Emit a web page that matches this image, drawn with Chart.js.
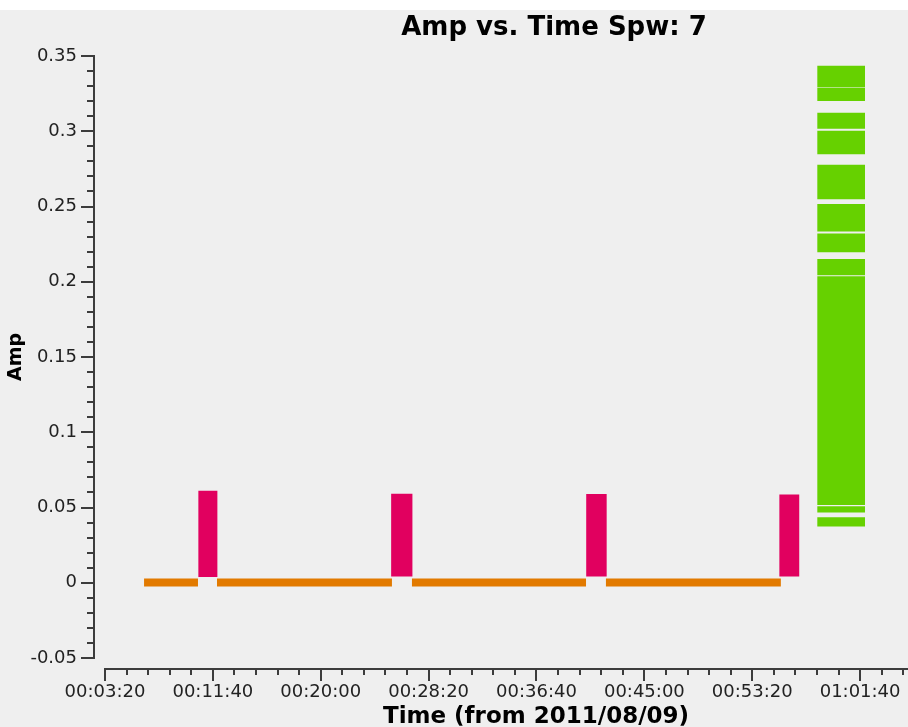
<!DOCTYPE html>
<html>
<head>
<meta charset="utf-8">
<title>Amp vs. Time Spw: 7</title>
<script src="https://cdn.jsdelivr.net/npm/chart.js@4.4.0/dist/chart.umd.min.js"></script>
<style>
  html, body { margin: 0; padding: 0; background: #fff; overflow: hidden; }
  #wrap { position: relative; width: 908px; height: 727px; }
</style>
</head>
<body>
<div id="wrap"><canvas id="plot"></canvas></div>
<script>
/* ---- data (time = seconds after 00:00:00 on 2011/08/09) ---- */
const xTicks = [200, 700, 1200, 1700, 2200, 2700, 3200, 3700];
const yTicks = [-0.05, 0, 0.05, 0.1, 0.15, 0.2, 0.25, 0.3, 0.35];
const xMin = 200, xMax = 3922;
const yMin = -0.05, yMax = 0.35;

// target scans, amp sitting on zero
const orangeStart = [381, 719, 1622, 2521];
const orangeEnd   = [631, 1530, 2430, 3333];
const orangeLow   = [-0.0025, -0.0025, -0.0025, -0.0025];
const orangeHigh  = [0.0028, 0.0028, 0.0028, 0.0028];

// phase calibrator visits
const pinkStart = [632, 1526, 2430, 3325];
const pinkEnd   = [722, 1626, 2526, 3419];
const pinkLow   = [0.0038, 0.0042, 0.0042, 0.0042];
const pinkHigh  = [0.0612, 0.0592, 0.0590, 0.0586];

// bandpass / flux scan at the end, split in amp bands
const greenStart = 3501, greenEnd = 3723;
const greenLow  = [0.0373, 0.0466, 0.0517, 0.2044, 0.2196, 0.2334, 0.2548, 0.2848, 0.3017, 0.3201, 0.3292];
const greenHigh = [0.0436, 0.0508, 0.2036, 0.2151, 0.2320, 0.2517, 0.2777, 0.3003, 0.3123, 0.3289, 0.3435];

const ORANGE = '#e27a00', PINK = '#e1005f', GREEN = '#66d100';

/* ---- helpers ---- */
function hms(s) {
  const h = Math.floor(s / 3600), m = Math.floor((s % 3600) / 60), sec = s % 60;
  return [h, m, sec].map(n => String(n).padStart(2, '0')).join(':');
}

function block(t0, t1, lo, hi, color) {
  return {
    data: [{ x: t0, y: hi }, { x: t1, y: hi }],
    fill: { value: lo },
    backgroundColor: color,
    borderColor: 'rgba(0,0,0,0)',
    borderWidth: 0,
    pointRadius: 0,
    tension: 0
  };
}

const datasets = [];
orangeStart.forEach((t, i) => datasets.push(block(t, orangeEnd[i], orangeLow[i], orangeHigh[i], ORANGE)));
pinkStart.forEach((t, i) => datasets.push(block(t, pinkEnd[i], pinkLow[i], pinkHigh[i], PINK)));
greenLow.forEach((lo, i) => datasets.push(block(greenStart, greenEnd, lo, greenHigh[i], GREEN)));

/* ---- plotms style frame: offset axes, minor ticks, titles ---- */
const frame = {
  id: 'plotmsFrame',
  beforeDraw(chart) {
    const c = chart.ctx;
    c.save();
    c.fillStyle = '#ffffff';
    c.fillRect(0, 0, chart.width, chart.height);
    c.fillStyle = '#efefef';
    c.fillRect(0, 10, chart.width, chart.height - 10);
    c.restore();
  },
  afterDraw(chart) {
    const { ctx: c, chartArea: a, scales: { x, y } } = chart;
    const yx = a.left - 11, xy = a.bottom + 11;
    c.save();
    c.strokeStyle = '#3c3c3c';
    c.lineWidth = 2;
    c.beginPath();
    c.moveTo(yx, y.getPixelForValue(yMax) - 1);
    c.lineTo(yx, y.getPixelForValue(yMin) + 1);
    c.moveTo(x.getPixelForValue(xMin) - 1, xy);
    c.lineTo(a.right, xy);
    for (let i = 0; i <= 40; i++) {
      const py = Math.round(y.getPixelForValue(yMin + i * 0.01));
      const len = i % 5 === 0 ? 13 : 7;
      c.moveTo(yx - len, py);
      c.lineTo(yx, py);
    }
    for (let i = 0; xMin + i * 100 <= xMax; i++) {
      const px = Math.round(x.getPixelForValue(xMin + i * 100));
      const len = i % 5 === 0 ? 12 : 6;
      c.moveTo(px, xy);
      c.lineTo(px, xy + len);
    }
    c.stroke();

    c.fillStyle = '#000';
    c.font = 'bold 26px "DejaVu Sans"';
    c.textAlign = 'center';
    c.textBaseline = 'alphabetic';
    c.fillText('Amp vs. Time Spw: 7', 554, 35);
    c.font = 'bold 23px "DejaVu Sans"';
    c.fillText('Time (from 2011/08/09)', 536, 723);
    c.translate(21, 357);
    c.rotate(-Math.PI / 2);
    c.font = 'bold 19px "DejaVu Sans"';
    c.fillText('Amp', 0, 0);
    c.restore();
  }
};

const tickFont = { family: 'DejaVu Sans', size: 18 };

new Chart(document.getElementById('plot'), {
  type: 'line',
  data: { datasets },
  plugins: [frame],
  options: {
    responsive: true,
    maintainAspectRatio: false,
    devicePixelRatio: 1,
    animation: false,
    layout: { padding: { top: 56, right: 0, left: 0, bottom: 0 } },
    plugins: { legend: { display: false }, tooltip: { enabled: false }, title: { display: false } },
    scales: {
      x: {
        type: 'linear',
        min: xMin, max: xMax,
        afterFit: s => { s.height = 69; },
        afterBuildTicks: s => { s.ticks = xTicks.map(v => ({ value: v })); },
        grid: { display: true, drawOnChartArea: false, color: 'rgba(0,0,0,0)', tickLength: 18 },
        border: { display: false },
        ticks: {
          autoSkip: false, maxRotation: 0, padding: 6,
          color: '#222', font: tickFont,
          callback: v => hms(v)
        }
      },
      y: {
        min: yMin, max: yMax,
        afterFit: s => { s.width = 105; },
        afterBuildTicks: s => { s.ticks = yTicks.map(v => ({ value: v })); },
        grid: { display: true, drawOnChartArea: false, color: 'rgba(0,0,0,0)', tickLength: 23 },
        border: { display: false },
        ticks: {
          padding: 5,
          color: '#222', font: tickFont,
          callback: v => String(parseFloat(v.toFixed(2)))
        }
      }
    }
  }
});
</script>
</body>
</html>
